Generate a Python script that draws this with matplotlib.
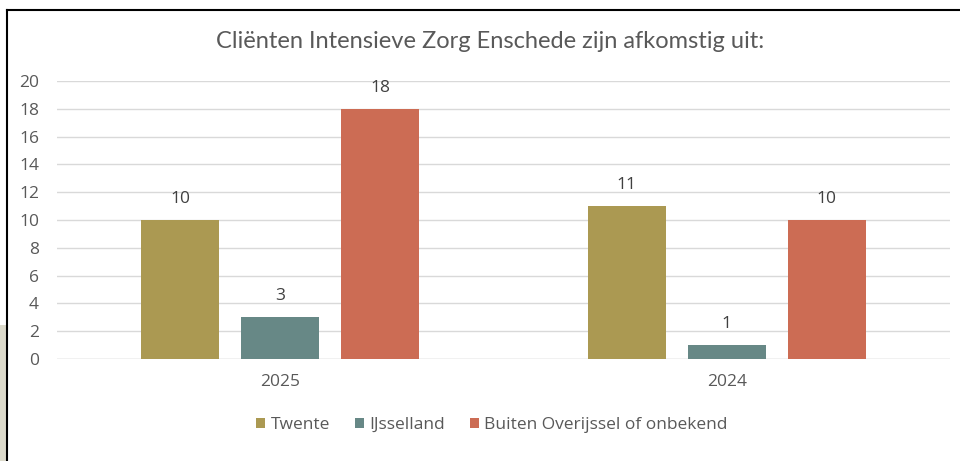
import matplotlib.pyplot as plt
import numpy as np
from matplotlib.patches import Rectangle
from matplotlib.lines import Line2D

years = ['2025', '2024']
series = ['Twente', 'IJsselland', 'Buiten Overijssel of onbekend']
twente = [10, 11]
ijsselland = [3, 1]
buiten = [18, 10]
colors = ['#ab9952', '#678886', '#cc6c54']

W, H = 960, 461
fig = plt.figure(figsize=(W / 100, H / 100), dpi=100)
fig.patch.set_facecolor('white')

# screenshot leftovers: beige strip and the chart frame
fig.patches.append(Rectangle((0, 0), 6 / W, (461 - 325) / H, transform=fig.transFigure,
                             facecolor='#dcdacb', edgecolor='none', zorder=0))
fig.lines.append(Line2D([7 / W, 7 / W], [0, 1 - 10 / H], transform=fig.transFigure,
                        color='black', lw=1.5))
fig.lines.append(Line2D([7 / W, 1], [1 - 10 / H, 1 - 10 / H], transform=fig.transFigure,
                        color='black', lw=1.5))

fs = 12.5
ax = fig.add_axes([57 / W, 1 - 359 / H, (950 - 57) / W, (359 - 81) / H])
x = np.arange(len(years))
width = 0.175
step = 0.224
for i, (vals, name) in enumerate(zip([twente, ijsselland, buiten], series)):
    pos = x + (i - 1) * step
    bars = ax.bar(pos, vals, width, color=colors[i], label=name, zorder=3)
    for b, v in zip(bars, vals):
        ax.text(b.get_x() + b.get_width() / 2, v + 0.95, str(v), ha='center', va='bottom',
                fontsize=fs, color='#404040', family='Open Sans')

ax.set_xlim(-0.5, 1.5)
ax.set_ylim(0, 20)
ax.set_yticks(range(0, 21, 2))
ax.grid(axis='y', color='#d9d9d9', lw=1, zorder=0)
ax.set_xticks(x)
ax.set_xticklabels(years)
for s in ax.spines.values():
    s.set_visible(False)
ax.axhline(0, color='#d9d9d9', lw=1, zorder=2)
ax.tick_params(length=0, labelsize=fs, labelcolor='#595959')
ax.tick_params(axis='y', pad=13)
ax.tick_params(axis='x', pad=11)
for t in ax.get_xticklabels() + ax.get_yticklabels():
    t.set_family('Open Sans')

fig.text(490 / W, 1 - 42 / H, 'Cliënten Intensieve Zorg Enschede zijn afkomstig uit:',
         ha='center', va='center', fontsize=17, color='#595959', family='Lato')

leg = fig.legend(loc='center', bbox_to_anchor=(492 / W, 1 - 425 / H), ncol=3, frameon=False,
                 handlelength=0.52, handleheight=0.52, handletextpad=0.3, columnspacing=1.45,
                 prop={'family': 'Open Sans', 'size': fs})
for t in leg.get_texts():
    t.set_color('#595959')

fig.savefig('out.png', dpi=100)
